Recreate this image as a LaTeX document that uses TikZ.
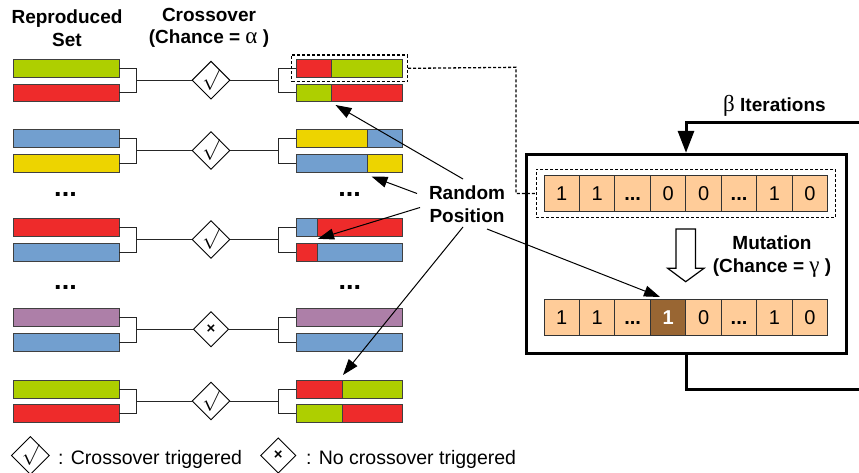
\documentclass[tikz,border=0pt]{standalone}
\usepackage{fontspec}
\setmainfont{Liberation Sans}
\newfontfamily\grk{Liberation Serif}
\usetikzlibrary{arrows.meta,calc,shapes.geometric,fit}
\definecolor{cgreen}{HTML}{AECF00}
\definecolor{cred}{HTML}{EE2B2B}
\definecolor{cblue}{HTML}{729FCF}
\definecolor{cyellow}{HTML}{EDD400}
\definecolor{cpurple}{HTML}{AD7FA8}
\definecolor{cpeach}{HTML}{FFCC99}
\definecolor{cbrown}{HTML}{996633}
\newcommand\mychk{{\fontsize{20}{20}\selectfont$\surd$}}
\newcommand\mynox{{\fontsize{15}{15}\selectfont\bfseries ×}}
\newcommand\cdts{\textbf{...}}
\newcommand\gk[1]{{\grk\mdseries\fontsize{23}{23}\selectfont #1}}
\tikzset{
  bar/.style={draw=black!75, line width=0.9pt, minimum width=106pt, minimum height=17.8pt, inner sep=0pt, anchor=north west},
  sbar/.style n args={3}{bar, fill=#2, path picture={
     \fill[#1] (path picture bounding box.north west) rectangle ([xshift=#3]path picture bounding box.south west);
     \draw[black!75, line width=0.9pt] ([xshift=#3]path picture bounding box.north west) -- ([xshift=#3]path picture bounding box.south west);}},
  brk/.style={draw=black!85, line width=1pt},
  dmd/.style={diamond, draw=black, line width=0.9pt, minimum size=35.4pt, inner sep=0pt, aspect=1},
  hdr/.style={font=\fontsize{19}{22.6}\selectfont\bfseries, align=center, inner sep=0pt},
  cell/.style={draw=black!80, line width=1pt, fill=cpeach, minimum width=35.46pt, minimum height=35.5pt, inner sep=0pt, text height=14.3pt, text depth=0pt, font=\fontsize{20}{20}\selectfont},
  mcell/.style={cell, fill=cbrown, text=white, font=\fontsize{20}{20}\selectfont\bfseries},
  dbox/.style={draw=black, dash pattern=on 3pt off 2pt, line width=1.3pt},
  rarr/.style={draw=black, line width=1pt, -{Triangle[length=16pt,width=11pt]}},
  thick3/.style={draw=black, line width=3pt},
  dots/.style={font=\fontsize{27}{27}\selectfont\bfseries, anchor=base, inner sep=0pt},
  legtxt/.style={font=\fontsize{19.5}{22}\selectfont, anchor=base west, inner sep=0pt}
}
\begin{document}
\begin{tikzpicture}[x=1pt,y=-1pt]
\useasboundingbox (0,0) rectangle (859,473);
\clip (0,0) rectangle (859,473);
\fill[white] (0,0) rectangle (859,473);

% headers
\node[hdr] (rs) at (67,28) {Reproduced\\Set};
\node[hdr] (co) at (209,28) {Crossover\\(Chance = \gk{α} )};

% rows
\foreach \t/\la/\lb/\s/\sym [count=\i] in {59/cgreen/cred/35/\mychk, 129.3/cblue/cyellow/70.7/\mychk, 218.3/cred/cblue/21/\mychk, 308.1/cpurple/cblue/0/\mynox, 379.8/cgreen/cred/46/\mychk}{
  \node[bar, fill=\la] (la\i) at (12.5,\t) {};
  \node[bar, fill=\lb] (lb\i) at (12.5,\t+24.6) {};
  \node[sbar={\lb}{\la}{\s pt}] (ra\i) at (296,\t) {};
  \node[sbar={\la}{\lb}{\s pt}] (rb\i) at (296,\t+24.6) {};
  \coordinate (j\i) at (136.3,\t+21.2);
  \coordinate (k\i) at (278.3,\t+21.2);
  \node[dmd] (d\i) at (211,\t+21.2) {\sym};
  \draw[brk] (la\i.east) -| (j\i) |- (lb\i.east);
  \draw[brk] (j\i) -- (d\i.west);
  \draw[brk] (d\i.east) -- (k\i);
  \draw[brk] (ra\i.west) -| (k\i) |- (rb\i.west);
}

% dots
\node[dots] (dl1) at (65.5,196.7) {...};
\node[dots] (dr1) at (349.5,196.7) {...};
\node[dots] (dl2) at (65.5,289.8) {...};
\node[dots] (dr2) at (349.8,289.8) {...};

% dashed box around first offspring
\node[dbox, fit=(ra1), inner xsep=4.5pt, inner ysep=4pt] (db1) {};

% mutation panel
\node[thick3, minimum width=320pt, minimum height=199pt, inner sep=0pt] (mbox) at (686,253.8) {};
\foreach \v [count=\c] in {1,1,\cdts,0,0,\cdts,1,0}{
  \node[cell] (ca\c) at ({544+35.46*(\c-0.5)},193.5) {\v};
}
\foreach \v/\st [count=\c] in {1/cell,1/cell,\cdts/cell,1/mcell,0/cell,\cdts/cell,1/cell,0/cell}{
  \node[\st] (cb\c) at ({544+35.46*(\c-0.5)},317.5) {\v};
}
\node[dbox, fit=(ca1)(ca8), inner xsep=7.3pt, inner ysep=6pt] (db2) {};

% dashed connector
\coordinate (dc) at (516,67.3);
\draw[dbox] (db1.east) -- (dc) |- (db2.west);

% loop
\coordinate (lt) at (870,122.3);
\coordinate (lb) at (870,389);
\draw[thick3, -{Triangle[length=22pt,width=16pt]}] (lt) -| (mbox.north);
\draw[thick3] (mbox.south) |- (lb);
\node[hdr, anchor=west] (beta) at (723,105.7) {\gk{β} Iterations};

% hollow arrow
\coordinate (ha) at (685.7,229);
\draw[fill=white, line width=1.2pt, line join=miter] ($(ha)+(-9.7,0)$) -- ($(ha)+(9.7,0)$) -- ($(ha)+(9.7,39.3)$) -- ($(ha)+(18.3,39.3)$) -- ($(ha)+(0,52.7)$) -- ($(ha)+(-18,39.3)$) -- ($(ha)+(-9.7,39.3)$) -- cycle;
\node[hdr] (mut) at (772,256.7) {Mutation\\(Chance = \gk{γ} )};

% random position
\node[hdr] (rp) at (467,204.5) {Random\\Position};
\coordinate (s1) at (463,179);
\coordinate (s2) at (417,193.5);
\coordinate (s3) at (420,207.5);
\coordinate (s4) at (463,227);
\coordinate (s5) at (487,229);
\coordinate (e1) at (335.5,105);
\coordinate (e2) at (371.5,176.5);
\coordinate (e3) at (318,238.8);
\coordinate (e4) at (343,375);
\coordinate (e5) at (660,297);
\draw[rarr] (s1) -- (e1);
\draw[rarr] (s2) -- (e2);
\draw[rarr] (s3) -- (e3);
\draw[rarr] (s4) -- (e4);
\draw[rarr] (s5) -- (e5);

% legend
\node[dmd] (lg1) at (30.4,455.5) {\mychk};
\node[legtxt] (lt1) at (58,464) {: Crossover triggered};
\node[dmd] (lg2) at (278.2,455.5) {\mynox};
\node[legtxt] (lt2) at (306,464) {: No crossover triggered};
\end{tikzpicture}
\end{document}
